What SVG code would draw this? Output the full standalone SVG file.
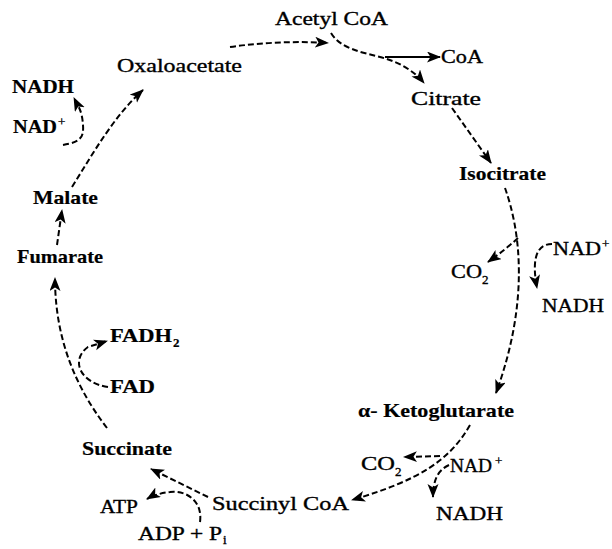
<svg xmlns="http://www.w3.org/2000/svg" width="612" height="549" viewBox="0 0 612 549">
<style>
text{font-family:"Liberation Serif","Times New Roman",serif;font-size:19px;fill:#000;stroke:#000;stroke-width:0.35}
.b{font-weight:bold;stroke-width:0.2}
.sm{font-size:13px}
.c path{fill:none;stroke:#000;stroke-width:2;stroke-dasharray:6 3}
.c path.s{stroke-dasharray:none}
</style>
<defs>
<marker id="ah" markerUnits="userSpaceOnUse" markerWidth="15" markerHeight="12" refX="13" refY="5.5" orient="auto">
<path d="M0,0 L14,5.5 L0,11 L3.5,5.5 z" fill="#000"/>
</marker>
</defs>
<rect width="612" height="549" fill="#fff"/>
<g class="c">
<path d="M230,47 Q280,40 328,43" marker-end="url(#ah)"/>
<path d="M331,33 C340,48 360,52 380,57 S415,72 424,83" marker-end="url(#ah)"/>
<path class="s" d="M385,57 L440,57" marker-end="url(#ah)"/>
<path d="M452,108 L491,163" marker-end="url(#ah)"/>
<path d="M505,188 C520,230 530,300 496,393" marker-end="url(#ah)"/>
<path d="M518,238 Q505,250 488,262" marker-end="url(#ah)"/>
<path d="M552,244 C535,244 532,262 537,288" marker-end="url(#ah)"/>
<path d="M470,425 C450,460 420,480 352,500" marker-end="url(#ah)"/>
<path d="M440,456 L404,457" marker-end="url(#ah)"/>
<path d="M449,465 C438,470 433,480 433,497" marker-end="url(#ah)"/>
<path d="M208,497 L151,469" marker-end="url(#ah)"/>
<path d="M200,522 C203,500 185,490 170,492 C160,493 152,496 147,499" marker-end="url(#ah)"/>
<path d="M107,428 C70,380 55,330 55,278" marker-end="url(#ah)"/>
<path d="M108,387 C80,383 70,360 88,347 L107,341" marker-end="url(#ah)"/>
<path d="M57,245 L62,210" marker-end="url(#ah)"/>
<path d="M72,187 C95,150 115,115 143,90" marker-end="url(#ah)"/>
<path d="M63,145 C80,142 84,138 83,125 C82,110 78,106 74,98" marker-end="url(#ah)"/>
</g>
<g id="acetylcoa"><text x="275" y="25" textLength="113" lengthAdjust="spacingAndGlyphs">Acetyl CoA</text></g>
<g id="oxaloacetate"><text x="117" y="72" textLength="125" lengthAdjust="spacingAndGlyphs">Oxaloacetate</text></g>
<g id="nadh1"><text class="b" x="12" y="93" textLength="62" lengthAdjust="spacingAndGlyphs">NADH</text></g>
<g id="nad1"><text class="b" x="13" y="133" textLength="44" lengthAdjust="spacingAndGlyphs">NAD</text><text class="sm" x="58" y="126">+</text></g>
<g id="malate"><text class="b" x="33" y="204" textLength="65" lengthAdjust="spacingAndGlyphs">Malate</text></g>
<g id="fumarate"><text class="b" x="17" y="263" textLength="86" lengthAdjust="spacingAndGlyphs">Fumarate</text></g>
<g id="fadh2"><text class="b" x="110" y="342" textLength="62" lengthAdjust="spacingAndGlyphs">FADH</text><text class="b sm" x="173" y="347">2</text></g>
<g id="fad"><text class="b" x="110" y="393" textLength="45" lengthAdjust="spacingAndGlyphs">FAD</text></g>
<g id="succinate"><text class="b" x="82" y="455" textLength="90" lengthAdjust="spacingAndGlyphs">Succinate</text></g>
<g id="atp"><text x="100" y="513" textLength="38" lengthAdjust="spacingAndGlyphs">ATP</text></g>
<g id="adp"><text x="138" y="540" textLength="84" lengthAdjust="spacingAndGlyphs">ADP + P</text><text class="sm" x="223" y="544">i</text></g>
<g id="succinylcoa"><text x="212" y="510" textLength="137" lengthAdjust="spacingAndGlyphs">Succinyl CoA</text></g>
<g id="akg"><text class="b" x="358" y="417" textLength="156" lengthAdjust="spacingAndGlyphs">α- Ketoglutarate</text></g>
<g id="co2b"><text x="361" y="470" textLength="34" lengthAdjust="spacingAndGlyphs">CO</text><text class="sm" x="395" y="476">2</text></g>
<g id="nad3"><text x="450" y="472" textLength="42" lengthAdjust="spacingAndGlyphs">NAD</text><text class="sm" x="495" y="465">+</text></g>
<g id="nadh3"><text x="436" y="520" textLength="67" lengthAdjust="spacingAndGlyphs">NADH</text></g>
<g id="citrate"><text x="411" y="105" textLength="70" lengthAdjust="spacingAndGlyphs">Citrate</text></g>
<g id="isocitrate"><text class="b" x="459" y="180" textLength="87" lengthAdjust="spacingAndGlyphs">Isocitrate</text></g>
<g id="coa"><text x="441" y="63" textLength="42" lengthAdjust="spacingAndGlyphs">CoA</text></g>
<g id="nad2"><text x="553" y="255" textLength="48" lengthAdjust="spacingAndGlyphs">NAD</text><text class="sm" x="602" y="248">+</text></g>
<g id="co2a"><text x="451" y="278" textLength="31" lengthAdjust="spacingAndGlyphs">CO</text><text class="sm" x="482" y="284">2</text></g>
<g id="nadh2"><text x="542" y="312" textLength="62" lengthAdjust="spacingAndGlyphs">NADH</text></g>
</svg>
